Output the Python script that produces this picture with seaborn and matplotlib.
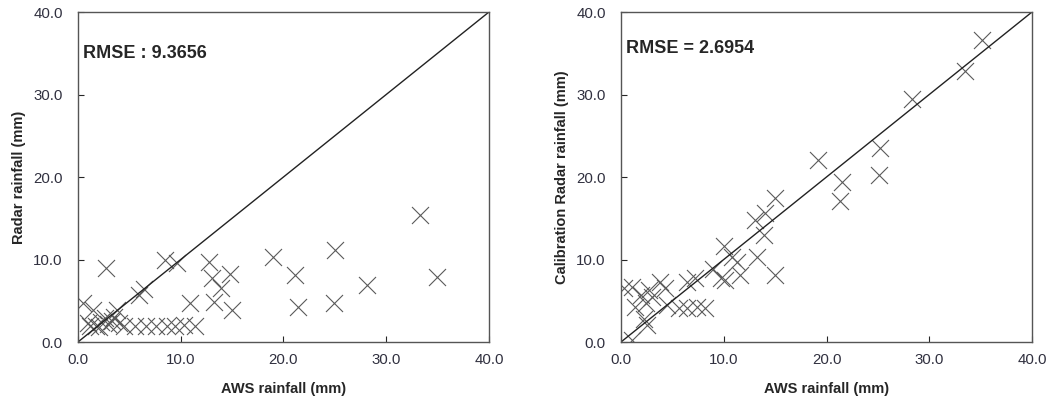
import numpy as np
import pandas as pd
import matplotlib
matplotlib.use("Agg")
import matplotlib.pyplot as plt
import seaborn as sns

# AWS vs radar rainfall (mm)
aws_raw = [0.5, 1.5, 1.0, 1.8, 2.2, 2.6, 2.0, 2.9, 3.3, 3.8, 3.5, 4.5, 5.6, 6.6,
           7.6, 8.7, 9.4, 10.3, 11.4, 2.7, 5.9, 6.4, 8.5, 9.6, 10.9, 12.8, 13.0,
           13.9, 14.8, 13.2, 15.0, 19.0, 21.1, 21.4, 24.9, 25.0, 28.1, 33.3,
           34.9, 1.2, 4.0]
radar_raw = [4.7, 3.9, 2.3, 2.0, 2.4, 2.9, 1.8, 2.2, 2.5, 3.9, 3.0, 2.0, 2.0, 2.0,
             2.0, 2.0, 2.0, 2.1, 1.9, 9.0, 5.7, 6.4, 9.9, 9.6, 4.7, 9.7, 7.7,
             6.5, 8.3, 4.8, 3.9, 10.3, 8.1, 4.3, 4.7, 11.2, 6.9, 15.4,
             7.9, 2.0, 2.3]

aws_cal = [1.1, 2.5, 1.1, 1.9, 2.7, 3.8, 4.3, 1.4, 2.4, 4.5, 5.6, 6.4, 7.4, 8.2,
           6.4, 7.2, 9.0, 9.7, 10.0, 10.8, 11.3, 11.6, 10.1, 13.0, 14.0, 13.9,
           13.2, 15.0, 15.0, 19.2, 21.3, 21.5, 25.1, 25.2, 28.3, 33.5, 35.1,
           2.2, 3.0, 0.3]
radar_cal = [0.3, 2.1, 6.7, 5.7, 6.3, 7.3, 6.5, 4.3, 4.7, 4.5, 4.1, 4.1, 4.3, 4.1,
             7.3, 7.7, 8.9, 7.7, 11.6, 10.3, 9.7, 8.1, 7.5, 14.8, 15.6, 13.0,
             10.3, 17.4, 8.1, 22.1, 17.1, 19.4, 20.2, 23.5, 29.5, 32.8, 36.6,
             2.8, 5.5, 6.5]

ticks = [0, 10, 20, 30, 40]
tick_labels = ["0.0", "10.0", "20.0", "30.0", "40.0"]
one_to_one = pd.DataFrame({"x": [0, 40], "y": [0, 40]})

sns.set_style("ticks")
plt.rcParams["font.family"] = ["Liberation Sans", "DejaVu Sans"]

fig = plt.figure(figsize=(10.52, 4.07), dpi=100)
ax1 = fig.add_axes([0.0741, 0.1597, 0.3907, 0.8108])
ax2 = fig.add_axes([0.5903, 0.1597, 0.3907, 0.8108])

panels = [
    (ax1, aws_raw, radar_raw, "Radar rainfall (mm)", "RMSE : 9.3656", 35.0),
    (ax2, aws_cal, radar_cal, "Calibration Radar rainfall (mm)", "RMSE = 2.6954", 35.6),
]

for ax, xs, ys, ylab, note, note_y in panels:
    sns.lineplot(data=one_to_one, x="x", y="y", ax=ax, color="#222222",
                 linewidth=1.0)
    sns.scatterplot(x=xs, y=ys, ax=ax, marker="x", s=150, color="#5a5a5a",
                    linewidth=0.8)
    ax.set_xlim(0, 40)
    ax.set_ylim(0, 40)
    ax.set_xticks(ticks)
    ax.set_xticklabels(tick_labels)
    ax.set_yticks(ticks)
    ax.set_yticklabels(tick_labels)
    ax.tick_params(direction="in", length=4, width=0.8, labelsize=10.8,
                   labelcolor="#30303f")
    ax.tick_params(axis="y", pad=11)
    ax.tick_params(axis="x", pad=8)
    for sp in ax.spines.values():
        sp.set_color("#555555")
        sp.set_linewidth(1.0)
    ax.set_xlabel("AWS rainfall (mm)", fontsize=10.5, fontweight="bold",
                  labelpad=11)
    ax.set_ylabel(ylab, fontsize=10.5, fontweight="bold", labelpad=5)
    ax.text(0.5, note_y, note, fontsize=13, fontweight="bold",
            ha="left", va="center")

fig.savefig("out.png", dpi=100)
